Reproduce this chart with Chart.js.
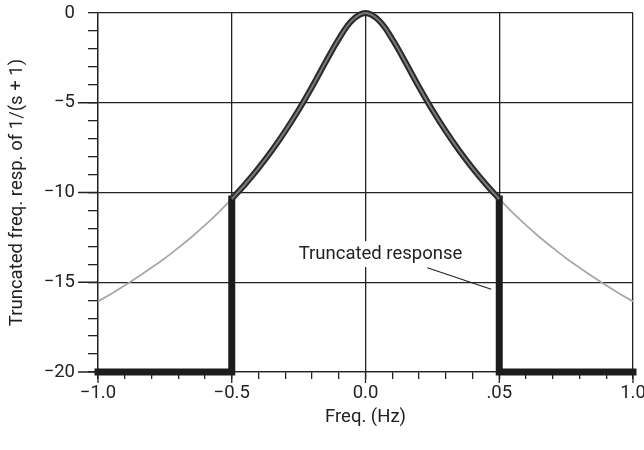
<!DOCTYPE html>
<html>
<head>
<meta charset="utf-8">
<script src="https://cdn.jsdelivr.net/npm/chart.js@4.4.1/dist/chart.umd.min.js"></script>
<style>
  html, body { margin: 0; padding: 0; background: #fff; }
</style>
</head>
<body>
<canvas id="respChart" width="644" height="450"></canvas>
<script>
// frequency grid (Hz) and magnitude (dB)
const freq = [-1.0, -0.95, -0.9, -0.85, -0.8, -0.75, -0.7, -0.65, -0.6, -0.55, -0.5,
  -0.45, -0.4, -0.35, -0.3, -0.25, -0.2, -0.15, -0.1, -0.05, 0.0,
  0.05, 0.1, 0.15, 0.2, 0.25, 0.3, 0.35, 0.4, 0.45, 0.5,
  0.55, 0.6, 0.65, 0.7, 0.75, 0.8, 0.85, 0.9, 0.95, 1.0];
const fullResp = [-16.07, -15.64, -15.18, -14.70, -14.19, -13.66, -13.08, -12.48, -11.82, -11.12, -10.36,
  -9.54, -8.64, -7.66, -6.58, -5.40, -4.12, -2.76, -1.45, -0.41, 0.0,
  -0.41, -1.45, -2.76, -4.12, -5.40, -6.58, -7.66, -8.64, -9.54, -10.36,
  -11.12, -11.82, -12.48, -13.08, -13.66, -14.19, -14.70, -15.18, -15.64, -16.07];

// truncated response outside the pass band
const stopFreqLeft = [-1.0, -0.5, -0.5];
const stopDbLeft = [-20, -20, -10.36];
const stopFreqRight = [0.5, 0.5, 1.0];
const stopDbRight = [-10.36, -20, -20];

const xTickLabels = { '-10': '\u22121.0', '-5': '\u22120.5', '0': '0.0', '5': '.05', '10': '1.0' };
const yTickLabels = { '0': '0', '-5': '\u22125', '-10': '\u221210', '-15': '\u221215', '-20': '\u221220' };

const FONT = 'Roboto, "DejaVu Sans Condensed", sans-serif';
const FSIZE = 18.5;
const INK = '#222';

const pts = (xs, ys) => xs.map((x, i) => ({ x: x, y: ys[i] }));
const passPts = pts(freq, fullResp).filter(p => p.x >= -0.5 && p.x <= 0.5);

const isMajorX = v => Math.round(v * 10) % 5 === 0;
const isMajorY = v => Math.round(v) % 5 === 0;

// longer tick marks at the labelled values + annotation
const extras = {
  id: 'extras',
  afterDraw(chart) {
    const c = chart.ctx, xs = chart.scales.x, ys = chart.scales.y, a = chart.chartArea;
    c.save();
    c.strokeStyle = INK;
    c.lineWidth = 1.3;
    c.beginPath();
    [-1, -0.5, 0, 0.5, 1].forEach(v => {
      const px = xs.getPixelForValue(v);
      c.moveTo(px, a.bottom); c.lineTo(px, a.bottom + 11);
    });
    [-5, -10, -15, -20].forEach(v => {
      const py = ys.getPixelForValue(v);
      c.moveTo(a.left, py); c.lineTo(a.left - 20, py);
    });
    c.stroke();

    // label and leader line
    c.font = FSIZE + 'px ' + FONT;
    c.textAlign = 'center';
    c.textBaseline = 'middle';
    const tx = xs.getPixelForValue(0.056), ty = ys.getPixelForValue(-13.43);
    const m = c.measureText('Truncated response').width;
    c.fillStyle = '#fff';
    c.fillRect(tx - m / 2 - 4, ty - 13, m + 8, 26);
    c.fillStyle = INK;
    c.fillText('Truncated response', tx, ty);
    c.lineWidth = 1.2;
    c.beginPath();
    c.moveTo(xs.getPixelForValue(0.231), ys.getPixelForValue(-14.19));
    c.lineTo(xs.getPixelForValue(0.47), ys.getPixelForValue(-15.39));
    c.stroke();
    c.restore();
  }
};

new Chart(document.getElementById('respChart').getContext('2d'), {
  type: 'line',
  data: {
    datasets: [
      {
        label: 'Full response',
        data: pts(freq, fullResp),
        borderColor: '#a8a8a8',
        borderWidth: 1.8,
        tension: 0.4,
        order: 4
      },
      {
        label: 'Stop left',
        data: pts(stopFreqLeft, stopDbLeft),
        borderColor: '#1c1c1c',
        borderWidth: 7,
        borderCapStyle: 'square',
        borderJoinStyle: 'miter',
        order: 3
      },
      {
        label: 'Stop right',
        data: pts(stopFreqRight, stopDbRight),
        borderColor: '#1c1c1c',
        borderWidth: 7,
        borderCapStyle: 'square',
        borderJoinStyle: 'miter',
        order: 3
      },
      {
        label: 'Pass band',
        data: passPts,
        borderColor: '#2a2a2a',
        borderWidth: 6,
        tension: 0.4,
        order: 2
      },
      {
        label: 'Pass band core',
        data: passPts,
        borderColor: '#7a7a7a',
        borderWidth: 2,
        tension: 0.4,
        order: 1
      }
    ]
  },
  options: {
    responsive: false,
    animation: false,
    clip: false,
    elements: { point: { radius: 0 } },
    layout: { padding: { top: 13, right: 11, bottom: 0, left: 0 } },
    plugins: { legend: { display: false }, tooltip: { enabled: false } },
    scales: {
      x: {
        type: 'linear',
        min: -1, max: 1,
        afterFit(s) { s.height = 78; s.paddingLeft = 0; s.paddingRight = 0; },
        border: { color: INK, width: 1.3 },
        grid: {
          color: ctx => isMajorX(ctx.tick.value) ? INK : 'rgba(0,0,0,0)',
          tickColor: INK,
          lineWidth: 1.3,
          tickLength: 7
        },
        ticks: {
          stepSize: 0.1,
          autoSkip: false,
          maxRotation: 0,
          padding: 3,
          color: INK,
          font: { family: FONT, size: FSIZE },
          callback: v => xTickLabels[String(Math.round(v * 10))] || ''
        },
        title: {
          display: true,
          text: 'Freq. (Hz)',
          color: INK,
          font: { family: FONT, size: FSIZE },
          padding: { top: 0, bottom: 22 }
        }
      },
      y: {
        min: -20, max: 0,
        afterFit(s) { s.width = 98; s.paddingTop = 0; s.paddingBottom = 0; },
        border: { color: INK, width: 1.3 },
        grid: {
          color: ctx => isMajorY(ctx.tick.value) ? INK : 'rgba(0,0,0,0)',
          tickColor: INK,
          lineWidth: 1.3,
          tickLength: 10
        },
        ticks: {
          stepSize: 1,
          autoSkip: false,
          padding: 13,
          color: INK,
          font: { family: FONT, size: FSIZE },
          callback: v => yTickLabels[String(Math.round(v))] || ''
        },
        title: {
          display: true,
          text: 'Truncated freq. resp. of 1/(s + 1)',
          color: INK,
          font: { family: FONT, size: FSIZE },
          padding: { top: 6, bottom: 0 }
        }
      }
    }
  },
  plugins: [extras]
});
</script>
</body>
</html>
